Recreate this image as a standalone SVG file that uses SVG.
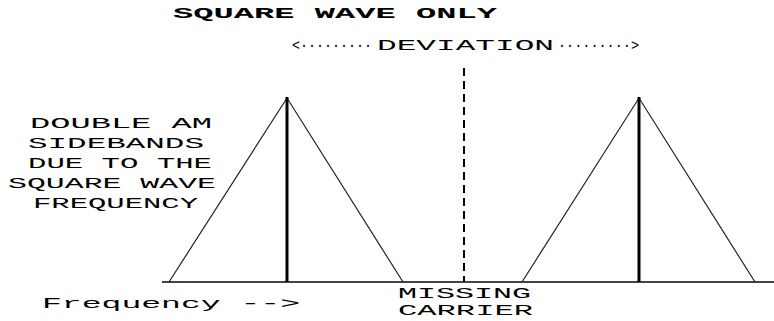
<svg xmlns="http://www.w3.org/2000/svg" width="774" height="321" viewBox="0 0 774 321">
<style>
text{font-family:"Liberation Mono","DejaVu Sans Mono",monospace;font-size:14px;fill:#000;}
.t{font-weight:bold;}
.side{stroke:#222;stroke-width:1.2;fill:none;}
.bar{stroke:#000;stroke-width:3;}
.base{stroke:#444;stroke-width:2;}
.dash{stroke:#000;stroke-width:2;stroke-dasharray:8 5;}
</style>
<rect width="774" height="321" fill="#fff"/>
<g id="title">
<text class="t" x="173" y="18" textLength="324" lengthAdjust="spacingAndGlyphs">SQUARE WAVE ONLY</text>
</g>
<g id="deviation">
<text x="292" y="50" textLength="80" lengthAdjust="spacingAndGlyphs">&lt;·········</text>
<text x="377" y="50" textLength="177" lengthAdjust="spacingAndGlyphs">DEVIATION</text>
<text x="558" y="50" textLength="81" lengthAdjust="spacingAndGlyphs">·········&gt;</text>
</g>
<g id="sideband-label">
<text x="30" y="128" textLength="182" lengthAdjust="spacingAndGlyphs">DOUBLE AM</text>
<text x="28" y="148" textLength="176" lengthAdjust="spacingAndGlyphs">SIDEBANDS</text>
<text x="28" y="168" textLength="184" lengthAdjust="spacingAndGlyphs">DUE TO THE</text>
<text x="8" y="188" textLength="208" lengthAdjust="spacingAndGlyphs">SQUARE WAVE</text>
<text x="33" y="208" textLength="165" lengthAdjust="spacingAndGlyphs">FREQUENCY</text>
</g>
<g id="connectors">
<line class="base" x1="162" y1="282" x2="774" y2="282"/>
<polyline class="side" points="169,282 287,98 403,282"/>
<polyline class="side" points="522,282 639,98 755,282"/>
<line class="bar" x1="287" y1="97" x2="287" y2="282"/>
<line class="bar" x1="639" y1="97" x2="639" y2="282"/>
<line class="dash" x1="464" y1="68" x2="464" y2="282"/>
</g>
<g id="axis-label">
<text x="42" y="308" textLength="258" lengthAdjust="spacingAndGlyphs">Frequency --&gt;</text>
</g>
<g id="carrier-label">
<text x="398" y="298" textLength="133" lengthAdjust="spacingAndGlyphs">MISSING</text>
<text x="398" y="315" textLength="135" lengthAdjust="spacingAndGlyphs">CARRIER</text>
</g>
</svg>
